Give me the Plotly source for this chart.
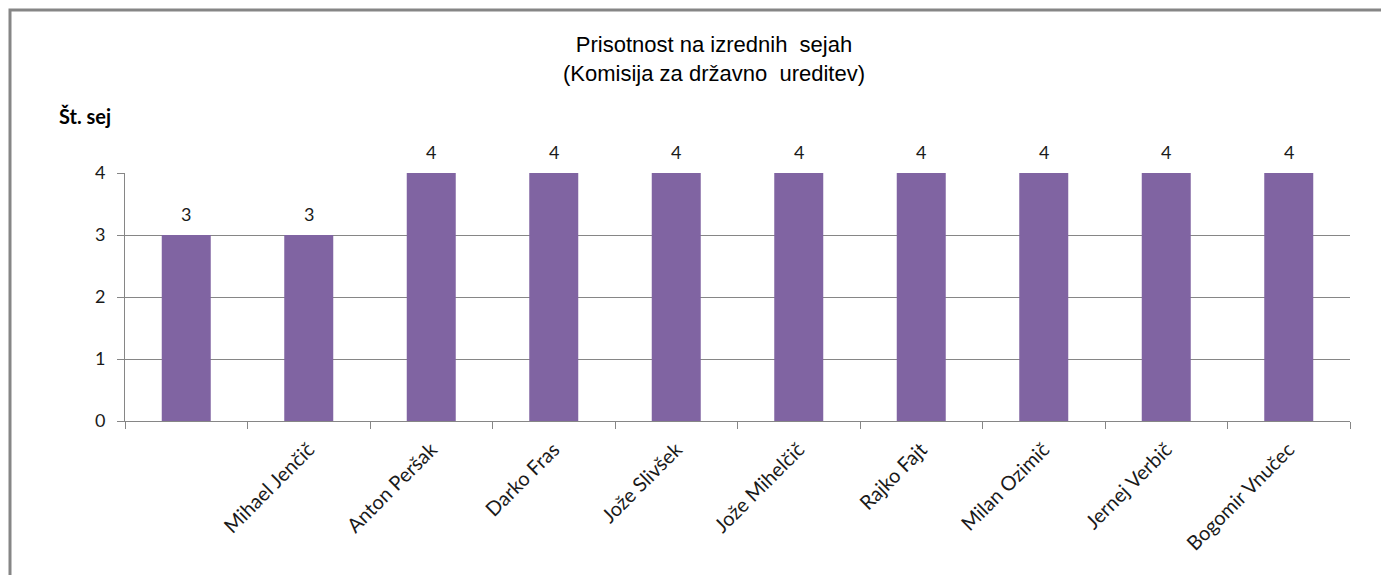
import plotly.graph_objects as go

categories = [" ", "Mihael Jenčič", "Anton Peršak", "Darko Fras", "Jože Slivšek",
              "Jože Mihelčič", "Rajko Fajt", "Milan Ozimič", "Jernej Verbič", "Bogomir Vnučec"]
values = [3, 3, 4, 4, 4, 4, 4, 4, 4, 4]
y_ticks = [0, 1, 2, 3, 4]

W, H = 1381, 575
L, R, T, B = 125, 31, 173, 154
PW, PH = W - L - R, H - T - B

FONT = "Lato, Open Sans, sans-serif"

fig = go.Figure(go.Bar(
    x=categories, y=values,
    marker=dict(color="#8064A2", line=dict(width=0)),
    cliponaxis=False,
))

# value labels above bars
for c, v in zip(categories, values):
    fig.add_annotation(
        x=c, y=v, xref="x", yref="y", text=str(v), showarrow=False,
        yanchor="middle", yshift=21,
        font=dict(family=FONT, size=18, color="#1a1a1a"),
    )

fig.update_layout(
    width=W, height=H,
    margin=dict(l=L, r=R, t=T, b=B),
    paper_bgcolor="white", plot_bgcolor="white",
    bargap=0.6, showlegend=False,
    xaxis=dict(type="category", tickson="boundaries", ticks="outside", ticklen=7,
               tickcolor="#868686", showline=True, linecolor="#868686", linewidth=1,
               showgrid=False, tickangle=-45, ticklabelstandoff=8,
               tickfont=dict(family=FONT, size=20, color="#1a1a1a")),
    yaxis=dict(range=[0, 4], tickvals=y_ticks, ticks="outside", ticklen=7,
               tickcolor="#868686", showline=True, linecolor="#868686", linewidth=1,
               showgrid=True, gridcolor="#868686", gridwidth=1, zeroline=False,
               ticklabelstandoff=8,
               tickfont=dict(family=FONT, size=18, color="#1a1a1a")),
    font=dict(family=FONT),
)

fig.add_annotation(
    xref="paper", yref="paper",
    x=(714 - L) / PW, y=1 + (T - 59) / PH,
    text="Prisotnost na izrednih  sejah<br>(Komisija za državno  ureditev)",
    showarrow=False, xanchor="center", yanchor="middle",
    font=dict(family="Liberation Sans, Arial, sans-serif", size=22, color="#000000"),
)
fig.add_annotation(
    xref="paper", yref="paper",
    x=(57 - L) / PW, y=1 + (T - 116) / PH,
    text="<b>Št. sej</b>", showarrow=False, xanchor="left", yanchor="middle",
    font=dict(family=FONT, size=20, color="#000000"),
)
# outer chart border
fig.add_shape(
    type="rect", xref="paper", yref="paper",
    x0=(10 - L) / PW, x1=(W + 20 - L) / PW,
    y0=-(B + 20) / PH, y1=1 + (T - 10) / PH,
    line=dict(color="#868686", width=3), fillcolor="rgba(0,0,0,0)", layer="below",
)

fig.write_html("out.html", config={"displayModeBar": False},
               post_script="document.body.style.margin='0';")
